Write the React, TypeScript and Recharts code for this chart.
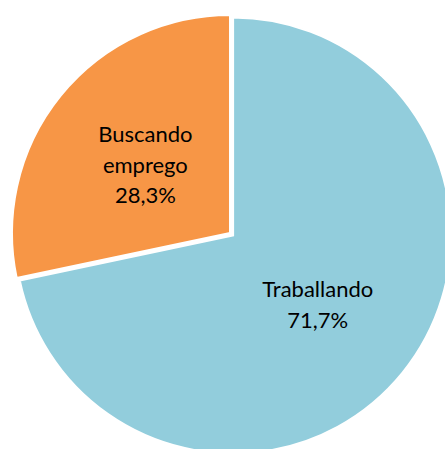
import React from "react";
import { PieChart, Pie, Cell, Sector } from "recharts";

const categories = ["Traballando", "Buscando emprego"];
const values = [71.7, 28.3];
const colors = ["#92CDDC", "#F79646"];
const exploded = [4, 0];

const data = categories.map((name, i) => ({ name, value: values[i] }));

const RAD = Math.PI / 180;

const renderShape = (props: any) => {
  const idx = props.index ?? 0;
  const off = exploded[idx] || 0;
  const dx = Math.cos(-props.midAngle * RAD) * off;
  const dy = Math.sin(-props.midAngle * RAD) * off;
  return <Sector {...props} cx={props.cx + dx} cy={props.cy + dy} />;
};

const renderLabel = (props: any) => {
  const { cx, cy, midAngle, outerRadius, name, value, index } = props;
  const off = exploded[index] || 0;
  const r = outerRadius * 0.5 + off;
  const x = cx + r * Math.cos(-midAngle * RAD);
  const y = cy + r * Math.sin(-midAngle * RAD);
  const lines = [...String(name).split(" "), value.toFixed(1).replace(".", ",") + "%"];
  const lh = 30.5;
  return (
    <text
      x={x}
      y={y}
      textAnchor="middle"
      fill="#000"
      fontFamily="Lato, 'Open Sans', sans-serif"
      fontSize={22}
    >
      {lines.map((l, i) => (
        <tspan key={i} x={x} y={y + (i - (lines.length - 1) / 2) * lh} dominantBaseline="central">
          {l}
        </tspan>
      ))}
    </text>
  );
};

export default function App() {
  return (
    <div
      style={{
        position: "absolute",
        top: 0,
        left: 0,
        width: 445,
        height: 449,
        overflow: "hidden",
        background: "#fff",
      }}
    >
      <PieChart width={445} height={449} margin={{ top: 0, right: 0, bottom: 0, left: 0 }}>
        <Pie
          data={data}
          dataKey="value"
          nameKey="name"
          cx={230}
          cy={233}
          outerRadius={218}
          startAngle={90}
          endAngle={-270}
          stroke="#fff"
          strokeWidth={2}
          labelLine={false}
          label={renderLabel}
          shape={renderShape}
          isAnimationActive={false}
        >
          {data.map((d, i) => (
            <Cell key={d.name} fill={colors[i]} />
          ))}
        </Pie>
      </PieChart>
    </div>
  );
}
